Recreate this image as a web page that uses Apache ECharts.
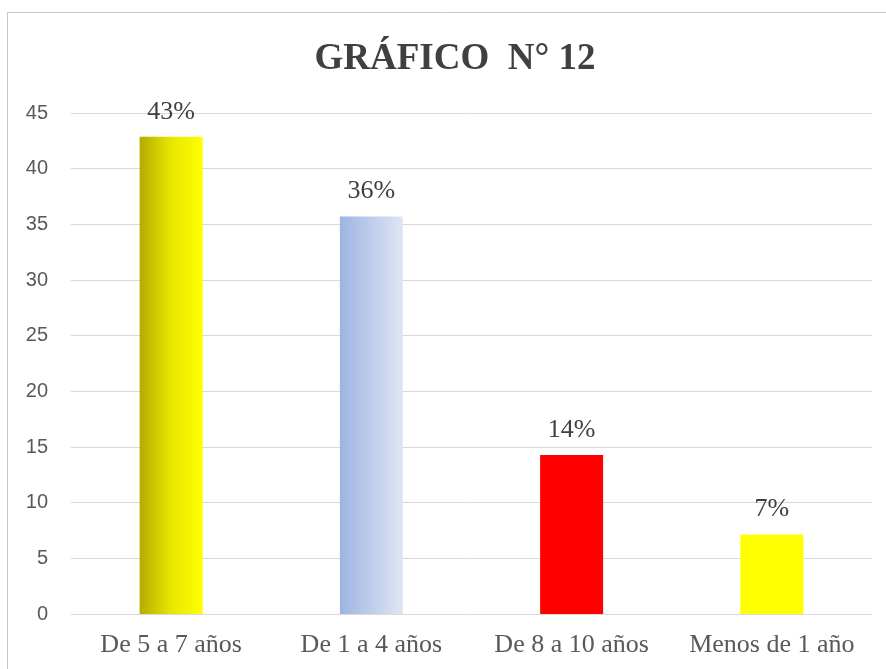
<!DOCTYPE html>
<html>
<head>
<meta charset="utf-8">
<script src="https://cdn.jsdelivr.net/npm/echarts@6/dist/echarts.min.js"></script>
<style>html,body{margin:0;padding:0;background:#fff;}#c{width:886px;height:669px;}</style>
</head>
<body>
<div id="c"></div>
<script>
var categories = ['De 5 a 7 años', 'De 1 a 4 años', 'De 8 a 10 años', 'Menos de 1 año'];
var values = [42.86, 35.71, 14.29, 7.14];
var valueLabels = ['43%', '36%', '14%', '7%'];
var yTicks = [0, 5, 10, 15, 20, 25, 30, 35, 40, 45];

var barColors = [
  {type:'linear', x:0, y:0, x2:1, y2:0, colorStops:[{offset:0, color:'#b3ac00'},{offset:0.5, color:'#e8e600'},{offset:1, color:'#ffff00'}]},
  {type:'linear', x:0, y:0, x2:1, y2:0, colorStops:[{offset:0, color:'#9db4e2'},{offset:1, color:'#dfe6f5'}]},
  '#ff0000',
  '#ffff00'
];

var chart = echarts.init(document.getElementById('c'), null, {renderer:'canvas'});
chart.setOption({
  animation: false,
  title: {
    text: 'GRÁFICO  N° 12',
    left: 450, textAlign: 'center', top: 36,
    textStyle: {fontFamily: '"Liberation Serif", "Times New Roman", serif', fontWeight: 'bold', fontSize: 37, color: '#404040'}
  },
  graphic: [{
    type: 'rect', silent: true,
    shape: {x: 7.5, y: 12.5, width: 900, height: 700},
    style: {fill: 'none', stroke: '#c6c6c6', lineWidth: 1}
  }],
  grid: {left: 71, right: 14, top: 113, bottom: 55, containLabel: false},
  xAxis: {
    type: 'category', data: categories,
    axisLine: {show: true, lineStyle: {color: '#d9d9d9', width: 1}},
    axisTick: {show: false},
    axisLabel: {interval: 0, hideOverlap: false, color: '#595959', fontFamily: '"Liberation Serif", "Times New Roman", serif', fontSize: 26, margin: 18}
  },
  yAxis: {
    type: 'value', min: yTicks[0], max: yTicks[yTicks.length-1], interval: 5,
    axisLine: {show: false}, axisTick: {show: false},
    axisLabel: {color: '#595959', fontFamily: '"Liberation Sans", Arial, sans-serif', fontSize: 20, margin: 23},
    splitLine: {lineStyle: {color: '#d9d9d9', width: 1}}
  },
  series: [{
    type: 'bar',
    barWidth: 63,
    data: values.map(function(v, i){ return {value: v, itemStyle: {color: barColors[i]}}; }),
    label: {
      show: true, position: 'top', distance: 12,
      formatter: function(p){ return valueLabels[p.dataIndex]; },
      color: '#404040', fontFamily: '"Liberation Serif", "Times New Roman", serif', fontSize: 26
    }
  }]
});
</script>
</body>
</html>
